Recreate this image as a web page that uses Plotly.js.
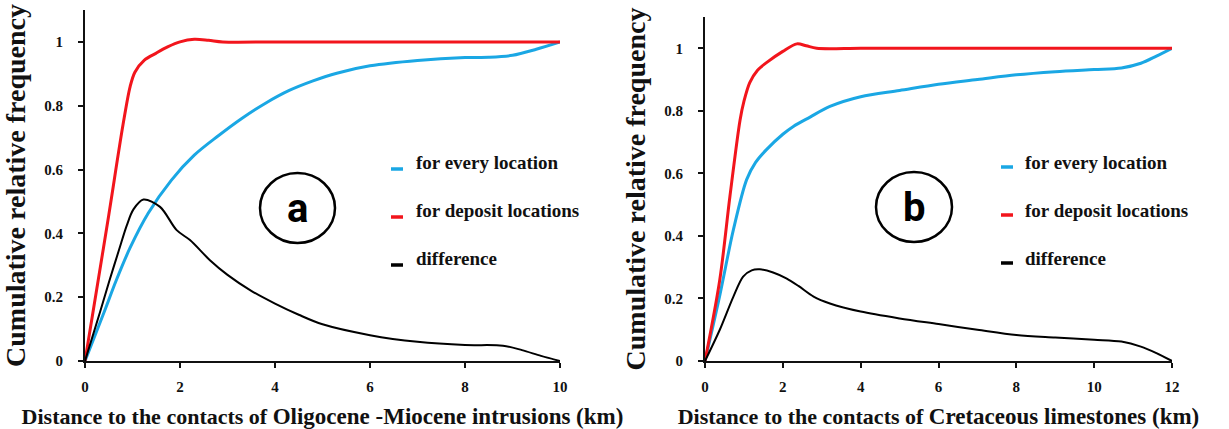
<!DOCTYPE html>
<html>
<head>
<meta charset="utf-8">
<script src="https://cdn.plot.ly/plotly-3.0.1.min.js"></script>
<style>
  html, body { margin: 0; padding: 0; background: #ffffff; }
  #chart { width: 1229px; height: 429px; font-family: 'Times New Roman'; }
</style>
</head>
<body>
<div id="chart"></div>
<script>
// Series shared by both panels
const seriesNames = ['for every location', 'for deposit locations', 'difference'];
const seriesColors = ['#1aa7e4', '#f2151c', '#000000'];
const seriesWidths = [3, 3, 2];

// Panel a: distance to Oligocene-Miocene intrusions (km)
const distA_every = [0, 0.42, 0.65, 0.95, 1.33, 1.82, 2.3, 2.8, 3.3, 3.8, 4.3, 4.8, 5.3, 6, 7, 8, 8.5, 9, 9.5, 10];
const freqA_every = [0, 0.16, 0.25, 0.355, 0.463, 0.567, 0.645, 0.705, 0.76, 0.808, 0.848, 0.878, 0.902, 0.925, 0.942, 0.951, 0.952, 0.958, 0.977, 1.0];
const distA_deposit = [0, 0.25, 0.5, 0.8, 0.95, 1.05, 1.25, 1.5, 1.75, 2, 2.3, 2.6, 2.9, 4, 6, 8, 10];
const freqA_deposit = [0, 0.228, 0.457, 0.74, 0.86, 0.905, 0.943, 0.965, 0.985, 1.0, 1.008, 1.005, 1.0, 1.0, 1.0, 1.0, 1.0];
const distA_diff = [0, 0.32, 0.51, 0.72, 0.88, 1.02, 1.23, 1.58, 1.93, 2.21, 2.63, 3.0, 3.5, 4, 4.5, 5, 6, 7, 8, 8.8, 9.2, 9.6, 10];
const freqA_diff = [0, 0.155, 0.25, 0.35, 0.425, 0.475, 0.506, 0.483, 0.41, 0.379, 0.316, 0.27, 0.22, 0.18, 0.145, 0.115, 0.081, 0.06, 0.05, 0.048, 0.034, 0.016, 0];

// Panel b: distance to Cretaceous limestones (km)
const distB_every = [0, 0.38, 0.73, 1.07, 1.3, 1.58, 2, 2.27, 2.7, 3.21, 4, 5, 6, 7, 8, 9, 10, 10.7, 11.2, 11.6, 12];
const freqB_every = [0, 0.21, 0.42, 0.58, 0.635, 0.676, 0.725, 0.75, 0.78, 0.814, 0.845, 0.865, 0.885, 0.9, 0.915, 0.925, 0.932, 0.937, 0.952, 0.975, 1.0];
const distB_deposit = [0, 0.38, 0.64, 0.9, 1.0, 1.15, 1.35, 1.58, 2, 2.36, 2.6, 2.87, 4, 6, 8, 10, 12];
const freqB_deposit = [0, 0.26, 0.526, 0.77, 0.83, 0.89, 0.93, 0.954, 0.99, 1.014, 1.008, 1.0, 1.0, 1.0, 1.0, 1.0, 1.0];
const distB_diff = [0, 0.38, 0.73, 0.98, 1.2, 1.41, 1.75, 2.09, 2.4, 2.79, 3.21, 4, 5, 6, 7, 8, 9, 10, 10.7, 11.2, 11.6, 12];
const freqB_diff = [0, 0.1, 0.206, 0.27, 0.29, 0.293, 0.283, 0.264, 0.24, 0.206, 0.184, 0.158, 0.136, 0.118, 0.1, 0.083, 0.075, 0.068, 0.062, 0.046, 0.025, 0];

// Axis ticks
const xTicksA = [0, 2, 4, 6, 8, 10];
const xTicksB = [0, 2, 4, 6, 8, 10, 12];
const yTicks = [0, 0.2, 0.4, 0.6, 0.8, 1];
const yTickText = ['0', '0.2', '0.4', '0.6', '0.8', '1'];

// Titles and panel letters
const yTitle = 'Cumulative relative frequency';
const xTitlePrefix = 'Distance to the contacts of ';
const xTitleA = 'Oligocene -Miocene intrusions (km)';
const xTitleB = 'Cretaceous limestones (km)';
const panelLetters = ['a', 'b'];

const W = 1229, H = 429;
const px = v => v / W;
const py = v => 1 - v / H;

function curve(x, y, i, xa, ya) {
  return {
    type: 'scatter', mode: 'lines', x: x, y: y,
    xaxis: xa, yaxis: ya, name: seriesNames[i], showlegend: false,
    cliponaxis: false, hoverinfo: 'skip',
    line: { color: seriesColors[i], width: seriesWidths[i], shape: 'spline', smoothing: 0.9 }
  };
}

const traces = [
  curve(distA_every, freqA_every, 0, 'x', 'y'),
  curve(distA_deposit, freqA_deposit, 1, 'x', 'y'),
  curve(distA_diff, freqA_diff, 2, 'x', 'y'),
  curve(distB_every, freqB_every, 0, 'x2', 'y2'),
  curve(distB_deposit, freqB_deposit, 1, 'x2', 'y2'),
  curve(distB_diff, freqB_diff, 2, 'x2', 'y2')
];

const TEXT_FAMILY = 'Times New Roman';
const tickFont = { family: TEXT_FAMILY, size: 15, color: '#111' };

function xAxis(ticks, domain, anchor, title) {
  return {
    domain: domain, anchor: anchor, range: [0, ticks[ticks.length - 1]],
    tickvals: ticks, ticktext: ticks.map(t => '<b>' + t + '</b>'),
    ticks: 'outside', ticklen: 5, tickwidth: 2, tickcolor: '#111',
    showline: true, linewidth: 2, linecolor: '#111',
    showgrid: false, zeroline: false, fixedrange: true,
    tickfont: tickFont, ticklabelstandoff: 6,
    title: {
      text: '<b><span style="font-size:22px">' + xTitlePrefix + '</span>' +
            '<span style="font-size:23px">' + title + '</span></b>',
      font: { family: TEXT_FAMILY, size: 23, color: '#111' },
      standoff: 14
    }
  };
}

function yAxis(domain, anchor) {
  return {
    domain: domain, anchor: anchor, range: [0, 1.1],
    tickvals: yTicks, ticktext: yTickText.map(t => '<b>' + t + '</b>'),
    ticks: 'outside', ticklen: 5, tickwidth: 2, tickcolor: '#111',
    showline: true, linewidth: 2, linecolor: '#111',
    showgrid: false, zeroline: false, fixedrange: true,
    tickfont: tickFont, ticklabelstandoff: 12,
    title: {
      text: '<b>' + yTitle + '</b>',
      font: { family: TEXT_FAMILY, size: 28, color: '#111' },
      standoff: 10
    }
  };
}

// Legend entries: short dash plus label, stacked per panel
const legendPanels = [
  { dashX0: 391, dashX1: 403, textX: 414, textY0: 162, dashY0: 169 },
  { dashX0: 1001, dashX1: 1013, textX: 1023, textY0: 162, dashY0: 167 }
];
const legendStep = 48;

const shapes = [];
const annotations = [];
legendPanels.forEach(p => {
  seriesNames.forEach((name, i) => {
    shapes.push({
      type: 'line', xref: 'paper', yref: 'paper',
      x0: px(p.dashX0), x1: px(p.dashX1),
      y0: py(p.dashY0 + i * legendStep), y1: py(p.dashY0 + i * legendStep),
      line: { color: seriesColors[i], width: 3.5 }
    });
    annotations.push({
      xref: 'paper', yref: 'paper', x: px(p.textX), y: py(p.textY0 + i * legendStep),
      xanchor: 'left', yanchor: 'middle', showarrow: false,
      text: '<b>' + name + '</b>',
      font: { family: TEXT_FAMILY, size: 19, color: '#111' }
    });
  });
});

// Circled panel letters
const letterBoxes = [
  { x0: 260, x1: 335, y0: 173, y1: 243 },
  { x0: 876, x1: 952, y0: 172, y1: 242 }
];
letterBoxes.forEach((b, i) => {
  shapes.push({
    type: 'circle', xref: 'paper', yref: 'paper',
    x0: px(b.x0), x1: px(b.x1), y0: py(b.y1), y1: py(b.y0),
    line: { color: '#000', width: 2.5 }
  });
  annotations.push({
    xref: 'paper', yref: 'paper',
    x: px((b.x0 + b.x1) / 2), y: py((b.y0 + b.y1) / 2),
    xanchor: 'center', yanchor: 'middle', showarrow: false,
    text: '<b>' + panelLetters[i] + '</b>',
    font: { family: 'Roboto', size: 40, color: '#000' }
  });
});

const layout = {
  width: W, height: H,
  margin: { l: 0, r: 0, t: 0, b: 0 },
  paper_bgcolor: '#ffffff', plot_bgcolor: '#ffffff',
  font: { family: TEXT_FAMILY, color: '#111' },
  showlegend: false,
  xaxis: xAxis(xTicksA, [px(85), px(560)], 'y', xTitleA),
  yaxis: yAxis([1 - 361 / H, 1 - 10 / H], 'x'),
  xaxis2: xAxis(xTicksB, [px(705), px(1172)], 'y2', xTitleB),
  yaxis2: yAxis([1 - 361 / H, 1 - 17 / H], 'x2'),
  shapes: shapes,
  annotations: annotations
};

Plotly.newPlot('chart', traces, layout, { displayModeBar: false, staticPlot: true });
</script>
</body>
</html>
